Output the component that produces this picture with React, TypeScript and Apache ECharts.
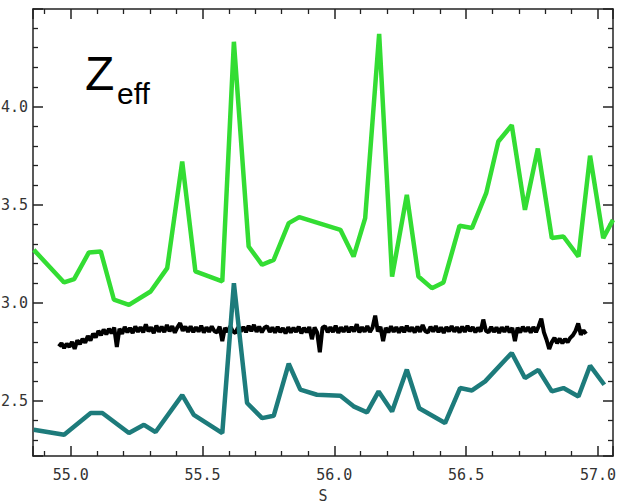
import React, { useEffect, useRef } from "react";
import * as echarts from "echarts";

// Green series (upper Zeff trace): S positions and values
const greenS = [54.86, 54.975, 55.013, 55.069, 55.114, 55.164, 55.221, 55.303, 55.366, 55.423, 55.473, 55.575, 55.619, 55.675, 55.726, 55.77, 55.827, 55.867, 56.023, 56.073, 56.117, 56.17, 56.219, 56.275, 56.319, 56.37, 56.414, 56.475, 56.522, 56.576, 56.622, 56.673, 56.723, 56.772, 56.825, 56.869, 56.926, 56.97, 57.02, 57.057];
const greenZ = [3.27, 3.104, 3.121, 3.257, 3.262, 3.016, 2.99, 3.058, 3.177, 3.72, 3.16, 3.109, 4.33, 3.287, 3.194, 3.219, 3.406, 3.437, 3.372, 3.236, 3.432, 4.37, 3.134, 3.55, 3.134, 3.075, 3.104, 3.393, 3.381, 3.559, 3.822, 3.905, 3.474, 3.786, 3.33, 3.338, 3.236, 3.75, 3.33, 3.423];

// Teal series (lower trace)
const tealS = [54.86, 54.975, 55.076, 55.12, 55.221, 55.278, 55.322, 55.423, 55.467, 55.575, 55.619, 55.669, 55.726, 55.77, 55.827, 55.871, 55.934, 56.023, 56.073, 56.124, 56.168, 56.219, 56.275, 56.322, 56.42, 56.477, 56.522, 56.572, 56.673, 56.723, 56.774, 56.825, 56.869, 56.926, 56.97, 57.024];
const tealZ = [2.354, 2.328, 2.439, 2.439, 2.337, 2.379, 2.342, 2.53, 2.43, 2.337, 3.1, 2.49, 2.413, 2.425, 2.69, 2.558, 2.532, 2.527, 2.473, 2.442, 2.549, 2.447, 2.66, 2.463, 2.388, 2.566, 2.554, 2.6, 2.745, 2.617, 2.659, 2.549, 2.566, 2.523, 2.68, 2.583];

// Black noisy trace: evenly sampled from blackStart with step blackStep
const blackStart = 54.955;
const blackStep = 0.01;
const blackZ = [
  2.778, 2.795, 2.770, 2.792, 2.776, 2.801, 2.766, 2.809, 2.790, 2.817,
  2.797, 2.831, 2.808, 2.843, 2.824, 2.857, 2.836, 2.864, 2.840, 2.868,
  2.846, 2.874, 2.775, 2.868, 2.842, 2.878, 2.850, 2.872, 2.846, 2.880,
  2.853, 2.876, 2.850, 2.890, 2.855, 2.875, 2.846, 2.884, 2.853, 2.879,
  2.851, 2.887, 2.855, 2.881, 2.848, 2.876, 2.897, 2.858, 2.879, 2.852,
  2.880, 2.851, 2.876, 2.854, 2.883, 2.849, 2.875, 2.853, 2.880, 2.856,
  2.850, 2.879, 2.805, 2.873, 2.852, 2.881, 2.855, 2.847, 2.876, 2.854,
  2.877, 2.851, 2.883, 2.856, 2.888, 2.853, 2.879, 2.850, 2.873, 2.881,
  2.852, 2.875, 2.848, 2.878, 2.851, 2.872, 2.844, 2.876, 2.849, 2.873,
  2.852, 2.879, 2.845, 2.873, 2.850, 2.877, 2.815, 2.875, 2.848, 2.748,
  2.873, 2.881, 2.850, 2.876, 2.852, 2.884, 2.847, 2.875, 2.853, 2.880,
  2.851, 2.877, 2.854, 2.891, 2.850, 2.876, 2.853, 2.882, 2.852, 2.875,
  2.935, 2.854, 2.878, 2.805, 2.873, 2.850, 2.880, 2.853, 2.876, 2.848,
  2.877, 2.851, 2.883, 2.855, 2.875, 2.849, 2.879, 2.853, 2.887, 2.856,
  2.850, 2.878, 2.854, 2.882, 2.851, 2.875, 2.847, 2.877, 2.855, 2.881,
  2.853, 2.876, 2.849, 2.879, 2.852, 2.883, 2.856, 2.877, 2.850, 2.874,
  2.854, 2.915, 2.858, 2.850, 2.878, 2.852, 2.875, 2.847, 2.876, 2.853,
  2.879, 2.850, 2.873, 2.805, 2.874, 2.849, 2.878, 2.854, 2.876, 2.848,
  2.877, 2.851, 2.881, 2.920, 2.850, 2.812, 2.765, 2.800, 2.822, 2.795,
  2.818, 2.794, 2.816, 2.800, 2.822, 2.835, 2.858, 2.895, 2.838, 2.860,
  2.842,
];

const X_MIN = 54.857;
const X_MAX = 57.057;
const Y_MIN = 2.22;
const Y_MAX = 4.497;

const FRAME = "#222";
const labelFont = "DejaVu Sans Mono";

const fmt = (v: number) =>
  Math.abs(v * 2 - Math.round(v * 2)) < 1e-6 ? v.toFixed(1) : "";

export default function App() {
  const ref = useRef<HTMLDivElement>(null);

  useEffect(() => {
    if (!ref.current) return;
    const chart = echarts.init(ref.current, undefined, { renderer: "svg" });

    const tickCommon = {
      axisLine: { show: true, onZero: false, lineStyle: { color: FRAME, width: 1.5 } },
      axisTick: { show: true, inside: true, length: 10, lineStyle: { color: FRAME, width: 1.5 } },
      minorTick: { show: true, splitNumber: 5, length: 5, lineStyle: { color: FRAME, width: 1.3 } },
      splitLine: { show: false },
      minorSplitLine: { show: false },
    };

    const xBase = {
      type: "value" as const,
      min: X_MIN,
      max: X_MAX,
      splitNumber: 4,
      ...tickCommon,
    };
    const yBase = {
      type: "value" as const,
      min: Y_MIN,
      max: Y_MAX,
      splitNumber: 4,
      ...tickCommon,
    };

    const blackData = blackZ.map((z, i) => [blackStart + i * blackStep, z]);

    chart.setOption({
      animation: false,
      backgroundColor: "#ffffff",
      grid: { left: 33, right: 4, top: 9, bottom: 48, containLabel: false, outerBoundsMode: "none" },
      xAxis: [
        {
          ...xBase,
          position: "bottom",
          axisLabel: {
            show: true,
            margin: 11,
            fontFamily: labelFont,
            fontSize: 15,
            color: "#333",
            formatter: fmt,
            showMinLabel: false,
            showMaxLabel: false,
          },
          name: "S",
          nameLocation: "middle",
          nameGap: 32,
          nameTextStyle: { fontFamily: labelFont, fontSize: 15, color: "#333" },
        },
        {
          ...xBase,
          position: "top",
          axisLabel: { show: false },
        },
      ],
      yAxis: [
        {
          ...yBase,
          position: "left",
          axisLabel: {
            show: true,
            margin: 5,
            fontFamily: labelFont,
            fontSize: 15,
            color: "#333",
            formatter: fmt,
            showMinLabel: false,
            showMaxLabel: false,
          },
        },
        {
          ...yBase,
          position: "right",
          axisLabel: { show: false },
        },
      ],
      series: [
        {
          type: "line",
          data: blackData,
          xAxisIndex: 0,
          yAxisIndex: 0,
          showSymbol: false,
          symbol: "none",
          lineStyle: { color: "#000", width: 4 },
          z: 2,
        },
        {
          type: "line",
          data: tealS.map((s, i) => [s, tealZ[i]]),
          xAxisIndex: 0,
          yAxisIndex: 0,
          showSymbol: false,
          symbol: "none",
          lineStyle: { color: "#1d7b7b", width: 4.5, join: "bevel" },
          z: 3,
        },
        {
          type: "line",
          data: greenS.map((s, i) => [s, greenZ[i]]),
          xAxisIndex: 0,
          yAxisIndex: 0,
          showSymbol: false,
          symbol: "none",
          lineStyle: { color: "#33dd33", width: 4.5, join: "bevel" },
          z: 4,
        },
      ],
      graphic: [
        {
          type: "text",
          left: 85,
          top: 49,
          style: {
            text: "Z",
            font: "48px 'Liberation Sans', Arial, sans-serif",
            fill: "#000",
          },
          z: 10,
        },
        {
          type: "text",
          left: 117,
          top: 78,
          style: {
            text: "eff",
            font: "30px 'Liberation Sans', Arial, sans-serif",
            fill: "#000",
          },
          z: 10,
        },
      ],
    });

    return () => chart.dispose();
  }, []);

  return (
    <div
      ref={ref}
      style={{ position: "fixed", left: 0, top: 0, width: 617, height: 504, background: "#fff" }}
    />
  );
}
